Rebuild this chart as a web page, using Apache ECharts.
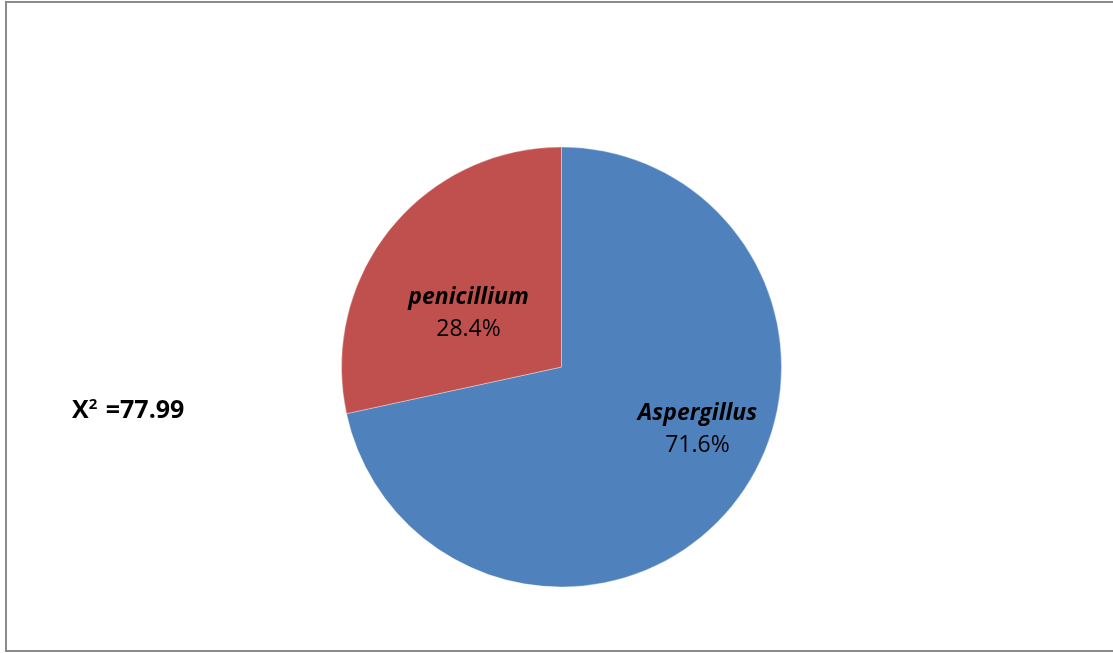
<!DOCTYPE html>
<html>
<head>
<meta charset="utf-8">
<script src="https://cdn.jsdelivr.net/npm/echarts@6/dist/echarts.min.js"></script>
<style>html,body{margin:0;padding:0;background:#fff;}#c{width:1113px;height:653px;}</style>
</head>
<body>
<div id="c"></div>
<script>
const categories = ['Aspergillus', 'penicillium'];
const values = [71.6, 28.4];
const colors = ['#4F81BD', '#C0504D'];
const statLabel = 'X';
const statValue = '77.99';
const labelShift = [[48, -8], [-5, 17]];

const chart = echarts.init(document.getElementById('c'));
chart.setOption({
  animation: false,
  backgroundColor: '#fff',
  graphic: [{
    type: 'rect', silent: true,
    shape: { x: 6, y: 2, width: 1200, height: 649 },
    style: { fill: 'none', stroke: '#8a8a8a', lineWidth: 2 }
  }],
  title: {
    text: statLabel + '{sup|2} =' + statValue,
    left: 67, top: 392,
    textStyle: {
      fontFamily: 'Open Sans', fontWeight: 'bold', fontSize: 25, color: '#000',
      rich: { sup: { fontFamily: 'Open Sans', fontWeight: 'bold', fontSize: 15, verticalAlign: 'top', padding: [0, 2, 12, 0], color: '#000' } }
    }
  },
  series: [{
    type: 'pie',
    center: [561.5, 367],
    radius: 220,
    startAngle: 90,
    clockwise: true,
    data: categories.map((n, i) => ({ name: n, value: values[i], itemStyle: { color: colors[i] } })),
    itemStyle: { borderColor: 'rgba(255,255,255,0.35)', borderWidth: 1 },
    label: {
      position: 'inside',
      formatter: p => '{n|' + p.name + '}\n{v|' + p.percent.toFixed(1) + '%}',
      rich: {
        n: { fontFamily: 'Open Sans', fontWeight: 'bold', fontStyle: 'italic', fontSize: 23, color: '#000', lineHeight: 32 },
        v: { fontFamily: 'Open Sans', fontSize: 23, color: '#000', lineHeight: 32 }
      }
    },
    labelLayout: p => ({ dx: labelShift[p.dataIndex][0], dy: labelShift[p.dataIndex][1] }),
    labelLine: { show: false },
    emphasis: { disabled: true }
  }]
});
</script>
</body>
</html>
